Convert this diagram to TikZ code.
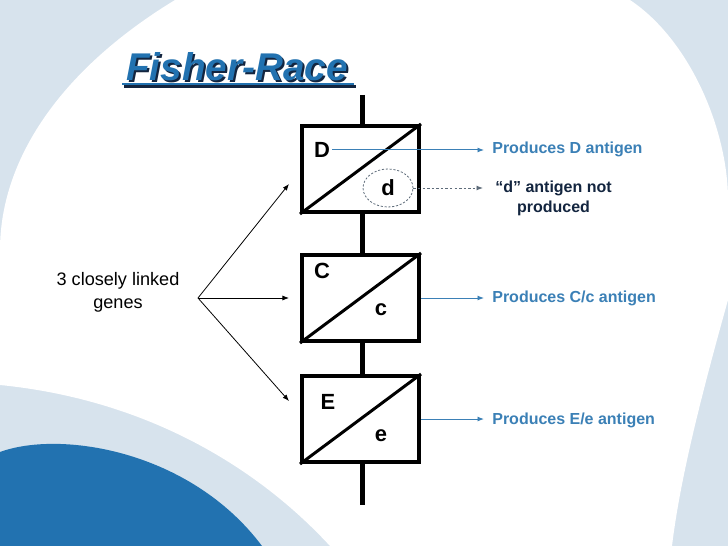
\documentclass[tikz,border=0pt]{standalone}
\usepackage{fontspec}
\setmainfont{Liberation Sans}
\usepackage{xcolor}
\usetikzlibrary{arrows.meta,positioning,calc,shapes.geometric}
\definecolor{Sky}{HTML}{D7E3ED}
\definecolor{Deep}{HTML}{2272B0}
\definecolor{Steel}{HTML}{3B80B6}
\definecolor{Navy}{HTML}{13253F}
\definecolor{Muted}{HTML}{5E6C7A}
\tikzset{
  gene/.style={
    draw=black, line width=2.3pt, minimum width=2.34cm,
    minimum height=1.72cm, inner sep=0pt
  },
  allele/.style={font=\bfseries\fontsize{12.5}{14}\selectfont,inner sep=1pt},
  chrom/.style={line width=2.3pt,draw=black},
  split/.style={line width=1.7pt,draw=black},
  ring/.style={ellipse,draw=Muted,dash pattern=on 1.2pt off 1pt,line width=.45pt,
    minimum width=1cm,minimum height=.76cm,inner sep=0pt},
  effect/.style={font=\bfseries\fontsize{9.1}{11.2}\selectfont,color=Steel,anchor=west,inner sep=0pt},
  arr/.style={-{Latex[length=1.3mm,width=1mm]},line width=.55pt,draw=Steel},
  dasharr/.style={arr,draw=Muted,dash pattern=on 1.4pt off 1.2pt},
  fan/.style={-{Latex[length=1.3mm,width=1mm]},line width=.45pt,draw=black}
}

\begin{document}
\begin{tikzpicture}[x=0.02cm,y=-0.02cm]
  \useasboundingbox (0,0) rectangle (728,546);
  % backdrop
  \fill[Sky] (0,0) rectangle (728,546);
  \fill[white] (175,0) -- (630,0) .. controls (690,40) and (728,130) .. (728,200)
    -- (728,300) .. controls (700,400) and (680,480) .. (672,546) -- (330,546)
    .. controls (260,470) and (150,400) .. (0,385) -- (0,250)
    .. controls (0,160) and (60,70) .. (175,0) -- cycle;
  \fill[Deep] (0,452) .. controls (60,430) and (190,450) .. (262,546) -- (0,546) -- cycle;

  % title
  \node[font=\bfseries\itshape\fontsize{22}{26}\selectfont,text=Navy] (ttlS) at (239,69) {Fisher-Race};
  \node[font=\bfseries\itshape\fontsize{22}{26}\selectfont,text=Deep] (ttl) at (237,67) {Fisher-Race};
  \draw[Navy,line width=1.6pt] ($(ttlS.south west)+(2,-3)$) -- ($(ttlS.south east)+(0,-3)$);
  \draw[Deep,line width=1.2pt] ($(ttl.south west)+(2,-3)$) -- ($(ttl.south east)+(0,-3)$);

  % genes on the chromosome
  \node[gene] (gD) at (360.5,169) {};
  \node[gene,below=0.78cm of gD] (gC) {};
  \node[gene,below=0.62cm of gC] (gE) {};
  \coordinate (cTop) at ($(gD.north)+(2,-29)$);
  \coordinate (cBot) at ($(gE.south)+(2,41)$);
  \draw[chrom] (cTop) -- (cTop |- gD.north);
  \draw[chrom] (cTop |- gD.south) -- (cTop |- gC.north);
  \draw[chrom] (cTop |- gC.south) -- (cTop |- gE.north);
  \draw[chrom] (cTop |- gE.south) -- (cBot);
  \foreach \g in {gD,gC,gE}
    \draw[split] (\g.south west) -- (\g.north east);

  \node[allele] (aD) at ($(gD.north west)+(22,26)$) {D};
  \node[allele,ring] (ad) at (388,188) {d};
  \node[allele] (aC) at ($(gC.north west)+(22,18)$) {C};
  \node[allele] (ac) at ($(gC.north west)+(81,57)$) {c};
  \node[allele] (aE) at ($(gE.north west)+(28,28)$) {E};
  \node[allele] (ae) at ($(gE.north west)+(81,62)$) {e};

  % effects
  \node[effect] (lD) at (492,149) {Produces D antigen};
  \node[effect,color=Navy,align=center,anchor=north west] (lNot) at (495,181) {“d” antigen not\\produced};
  \node[effect] (lC) at (492,298) {Produces C/c antigen};
  \node[effect] (lE) at (492,420) {Produces E/e antigen};
  \draw[arr] (aD.east) -- ($(aD.east -| lD.west)+(-8,0)$);
  \draw[dasharr] (ad.east) -- ($(ad.east -| lNot.west)+(-12,0)$);
  \draw[arr] (gC.east) -- ($(gC.east -| lC.west)+(-8,0)$);
  \draw[arr] (gE.east) -- ($(gE.east -| lE.west)+(-8,0)$);

  % linked genes
  \node[font=\fontsize{10.3}{13}\selectfont,align=center] (genes) at (118,292) {3 closely linked\\genes};
  \coordinate (fork) at ($(gC.west)+(-102,0)$);
  \coordinate (tD) at ($(gD.west)+(-11,15)$);
  \coordinate (tC) at ($(gC.west)+(-11,0)$);
  \coordinate (tE) at ($(gE.west)+(-11,-18)$);
  \foreach \t in {tD,tC,tE}
    \draw[fan] (fork) -- (\t);
\end{tikzpicture}
\end{document}
